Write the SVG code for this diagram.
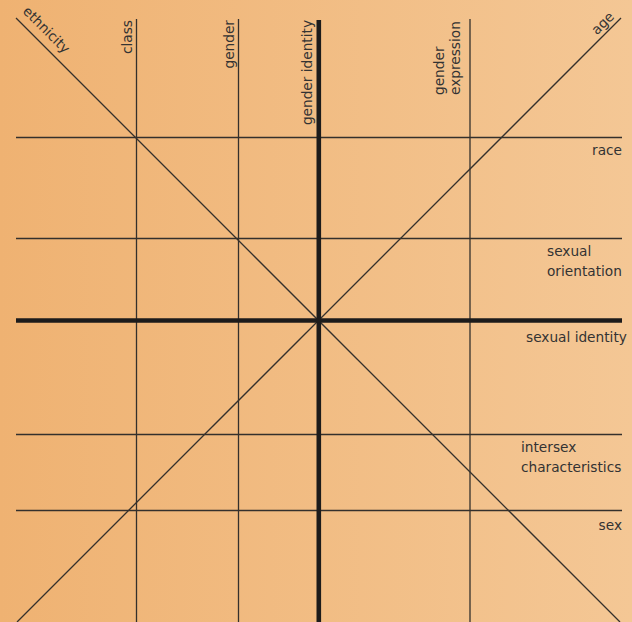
<svg xmlns="http://www.w3.org/2000/svg" width="632" height="622" viewBox="0 0 632 622">
  <defs>
    <linearGradient id="bg" x1="0" y1="0" x2="1" y2="0">
      <stop offset="0" stop-color="#EFB272"/>
      <stop offset="1" stop-color="#F4C795"/>
    </linearGradient>
  </defs>
  <style>
    .thin { stroke: #34302c; stroke-width: 1.3; fill: none; }
    .thick { stroke: #1c1b1b; stroke-width: 4.6; fill: none; }
    .lbl { font-family: "DejaVu Sans", Verdana, sans-serif; font-size: 13.7px; fill: #333; }
  </style>

  <rect x="0" y="0" width="632" height="622" fill="url(#bg)"/>

  <!-- axes -->
  <g id="connectors">
    <line class="thin" x1="136.5" y1="19" x2="136.5" y2="622"/>
    <line class="thin" x1="238.5" y1="19" x2="238.5" y2="622"/>
    <line class="thin" x1="470" y1="19" x2="470" y2="622"/>
    <line class="thin" x1="16" y1="137.5" x2="622" y2="137.5"/>
    <line class="thin" x1="16" y1="238.5" x2="622" y2="238.5"/>
    <line class="thin" x1="16" y1="434.5" x2="622" y2="434.5"/>
    <line class="thin" x1="16" y1="510.5" x2="622" y2="510.5"/>
    <line class="thin" x1="16" y1="18" x2="620" y2="622"/>
    <line class="thin" x1="621" y1="18" x2="17" y2="622"/>
    <line class="thick" x1="318.8" y1="20" x2="318.8" y2="622"/>
    <line class="thick" x1="16" y1="320.5" x2="622" y2="320.5"/>
  </g>

  <g id="ethnicity">
    <text class="lbl" transform="translate(22,12) rotate(45)">ethnicity</text>
  </g>
  <g id="class">
    <text class="lbl" text-anchor="end" transform="translate(131.5,20) rotate(-90)">class</text>
  </g>
  <g id="gender">
    <text class="lbl" text-anchor="end" transform="translate(233.5,20) rotate(-90)">gender</text>
  </g>
  <g id="gender-identity">
    <text class="lbl" text-anchor="end" transform="translate(312,20) rotate(-90)">gender identity</text>
  </g>
  <g id="gender-expression">
    <text class="lbl" transform="translate(443.5,95) rotate(-90)">gender</text>
    <text class="lbl" transform="translate(459.5,95) rotate(-90)">expression</text>
  </g>
  <g id="age">
    <text class="lbl" text-anchor="end" transform="translate(615,17.5) rotate(-45)">age</text>
  </g>

  <g id="race">
    <text class="lbl" x="622" y="155" text-anchor="end">race</text>
  </g>
  <g id="sexual-orientation">
    <text class="lbl" x="547" y="256">sexual</text>
    <text class="lbl" x="547" y="276">orientation</text>
  </g>
  <g id="sexual-identity">
    <text class="lbl" x="526" y="341.5">sexual identity</text>
  </g>
  <g id="intersex-characteristics">
    <text class="lbl" x="521" y="451.5">intersex</text>
    <text class="lbl" x="521" y="471.5">characteristics</text>
  </g>
  <g id="sex">
    <text class="lbl" x="622" y="530" text-anchor="end">sex</text>
  </g>
</svg>
